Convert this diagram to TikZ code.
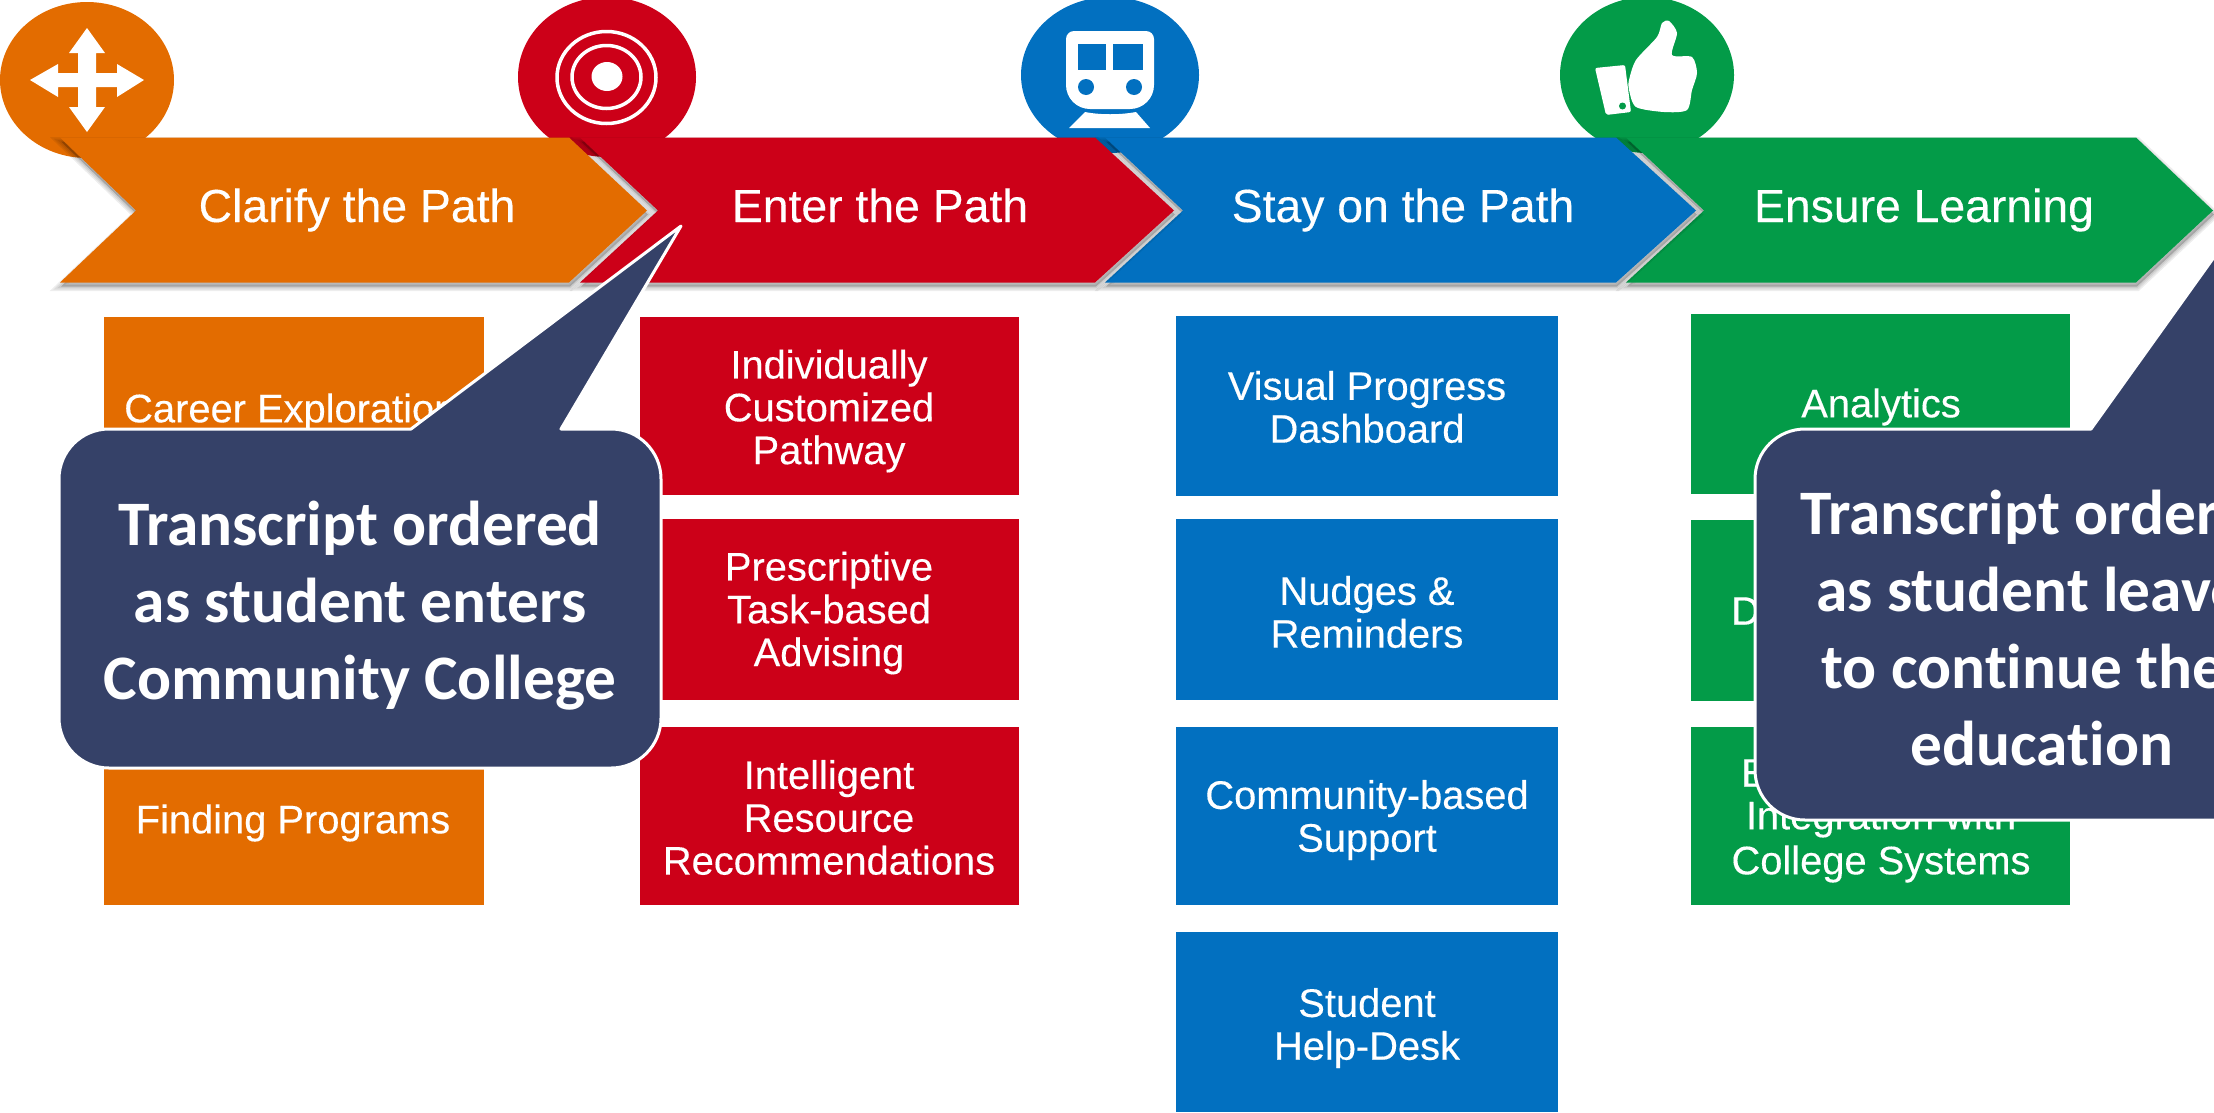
\documentclass[tikz,border=0pt]{standalone}
\usepackage{fontspec}
\setmainfont{Liberation Sans}
\newfontfamily\labelfont{Liberation Sans}[FakeBold=0.25]
\newfontfamily\calloutfont{Carlito}[Ligatures=NoCommon]
\definecolor{cOrange}{HTML}{E36C00}
\definecolor{cRed}{HTML}{CC0018}
\definecolor{cBlue}{HTML}{0270C0}
\definecolor{cGreen}{HTML}{039B48}
\definecolor{cNavy}{HTML}{354168}
\newcommand{\chevpath}[4]{(#1,137.5) -- (#3,137.5) -- (#4,210.5) -- (#3,282.5) -- (#1,282.5) -- (#2,210.5) -- cycle}
\newcommand{\chevron}[5]{%
  \foreach \w in {9,6,3}{\path[draw=black,fill=black,opacity=.07,line width=\w bp,shift={(1,4)}] \chevpath{#2}{#3}{#4}{#5};}%
  \fill[#1] \chevpath{#2}{#3}{#4}{#5};}
\tikzset{
  x=1bp,y=-1bp,
  chevlabel/.style={text=white,inner sep=0,anchor=base,font=\labelfont\fontsize{46.5}{56}\selectfont},
  boxlabel/.style={text=white,inner sep=0,align=center,font=\labelfont\fontsize{40}{43}\selectfont},
  calloutbody/.style={fill=cNavy,draw=white,line width=3bp,line join=round},
  callouttext/.style={text=white,inner sep=0,align=center,font=\calloutfont\bfseries\fontsize{63.6}{77.3}\selectfont},
  iconwhite/.style={fill=white,draw=none}
}
\begin{document}
\begin{tikzpicture}
\useasboundingbox (0,0) rectangle (2214,1112);
\clip (0,0) rectangle (2214,1112);
% icon discs
\fill[cOrange] (87,80) ellipse [x radius=87bp,y radius=78bp];
\fill[cRed] (607,77) ellipse [x radius=89bp,y radius=80bp];
\fill[cBlue] (1110,75) ellipse [x radius=89bp,y radius=78bp];
\fill[cGreen] (1647,75) ellipse [x radius=87bp,y radius=78bp];
% chevrons, right one first
\chevron{cGreen}{1626}{1704}{2136}{2213}
\chevron{cBlue}{1105}{1183}{1616}{1696}
\chevron{cRed}{580}{658}{1095}{1174}
\chevron{cOrange}{60}{136}{569}{647}
% move icon
\fill[iconwhite] (87,28) -- (105,53) -- (96,53) -- (96,73) -- (117,73) -- (117,64) -- (144,80) -- (117,97) -- (117,87) -- (96,87) -- (96,107) -- (105,107) -- (87,132) -- (69,107) -- (78,107) -- (78,87) -- (58,87) -- (58,97) -- (30,80) -- (58,64) -- (58,73) -- (78,73) -- (78,53) -- (69,53) -- cycle;
% target icon
\draw[white,line width=3.5bp] (606.5,77.5) ellipse [x radius=49.5bp,y radius=46bp];
\draw[white,line width=3.5bp] (606.5,77) ellipse [x radius=34.5bp,y radius=31.5bp];
\fill[white] (607,76.5) ellipse [x radius=15.5bp,y radius=14.5bp];
% train icon
\fill[white,rounded corners=8bp] (1066,31) -- (1154,31) -- (1154,70) [rounded corners=24bp] -- (1154,109) -- (1066,109) [rounded corners=8bp] -- (1066,70) -- cycle;
\fill[cBlue] (1077.5,44) rectangle (1105.5,70);
\fill[cBlue] (1113,44) rectangle (1143,70);
\fill[cBlue] (1086,87) circle [radius=8bp];
\fill[cBlue] (1134,87) circle [radius=8bp];
\fill[white] (1085,112) .. controls (1100,115) and (1120,115) .. (1136,112) -- (1150,128) -- (1069,128) -- cycle;
% thumb icon
\fill[white,rounded corners=2bp] (1595,68) -- (1625,65) -- (1631,112) -- (1606,115) -- cycle;
\fill[cGreen] (1622.5,106) circle [radius=3.5bp];
\fill[white] plot[smooth cycle,tension=.45] coordinates {(1629,80) (1636,60) (1657,37) (1662,23) (1669,21) (1677,33) (1672,55) (1692,57) (1697,73) (1692,90) (1687,110) (1664,112) (1636,107) (1629,90)};
% chevron labels
\node[chevlabel] (lblClarify) at (357,222) {Clarify the Path};
\node[chevlabel] (lblEnter) at (880,222) {Enter the Path};
\node[chevlabel] (lblStay) at (1403,222) {Stay on the Path};
\node[chevlabel] (lblEnsure) at (1924,222) {Ensure Learning};
% orange column
\fill[cOrange] (104,317) rectangle (483.5,495);
\fill[cOrange] (104,727) rectangle (483.5,905);
\node[boxlabel,anchor=west] (careerExp) at (124,412) {Career Exploration};
\node[boxlabel] (findProg) at (293,823) {Finding Programs};
% red column
\fill[cRed] (640,317) rectangle (1019,495);
\fill[cRed] (640,519) rectangle (1019,700);
\fill[cRed] (640,727) rectangle (1019,905);
\node[boxlabel] (redA) at (829,411) {Individually\\Customized\\Pathway};
\node[boxlabel] (redB) at (829,613) {Prescriptive\\Task-based\\Advising};
\node[boxlabel] (redC) at (829,817.5) {Intelligent\\Resource\\Recommendations};
% blue column
\fill[cBlue] (1176,316) rectangle (1558,496);
\fill[cBlue] (1176,519) rectangle (1558,700);
\fill[cBlue] (1176,727) rectangle (1558,905);
\fill[cBlue] (1176,932) rectangle (1558,1112);
\node[boxlabel] (blueA) at (1367,407) {Visual Progress\\Dashboard};
\node[boxlabel] (blueB) at (1367,612) {Nudges \&\\Reminders};
\node[boxlabel] (blueC) at (1367,820) {Community-based\\Support};
\node[boxlabel] (blueD) at (1367,1028) {Student\\Help-Desk};
% green column
\fill[cGreen] (1691,314) rectangle (2070,494);
\fill[cGreen] (1691,520) rectangle (2070,701);
\fill[cGreen] (1691,727) rectangle (2070,905);
\node[boxlabel] (greenA) at (1881,407) {Analytics};
\node[boxlabel,anchor=west] (greenB) at (1731,611) {D};
\node[boxlabel,anchor=west] (greenC) at (1741,773) {E};
\node[boxlabel] (greenC2) at (1881,819) {Integration with};
\node[boxlabel] (greenC3) at (1881,864) {College Systems};
% callouts
\path[calloutbody] (411,429) -- (681,226) -- (561,429) -- (611,429)
  arc[start angle=90,end angle=0,radius=50bp] -- (661,718)
  arc[start angle=0,end angle=-90,radius=50bp] -- (109,768)
  arc[start angle=-90,end angle=-180,radius=50bp] -- (59,479)
  arc[start angle=180,end angle=90,radius=50bp] -- cycle;
\node[callouttext] (noteEnter) at (360,606) {Transcript ordered\\as student enters\\Community College};
\path[calloutbody] (2091,429) -- (2330,95) -- (2290,429) -- (2300,429) -- (2330,429) -- (2330,820) -- (1805,820)
  arc[start angle=-90,end angle=-180,radius=50bp] -- (1755,479)
  arc[start angle=180,end angle=90,radius=50bp] -- cycle;
\node[callouttext] (noteLeave) at (2042,628) {Transcript ordered\\as student leaves\\to continue their\\education};
\end{tikzpicture}
\end{document}
